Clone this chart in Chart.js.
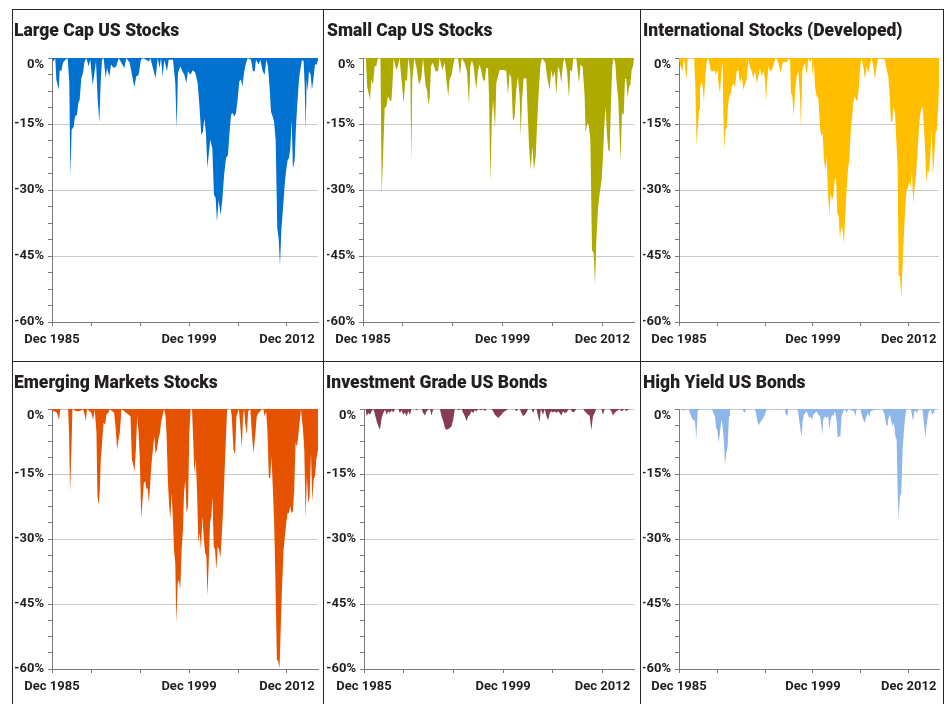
<!DOCTYPE html>
<html>
<head>
<meta charset="utf-8">
<script src="https://cdn.jsdelivr.net/npm/chart.js@4.4.1/dist/chart.umd.min.js"></script>
<style>
  html, body { margin: 0; padding: 0; background: #ffffff; width: 948px; height: 704px; overflow: hidden; }
  #stage { position: relative; width: 948px; height: 704px; }
  canvas { position: absolute; }
  .line { position: absolute; background: #262626; }
</style>
</head>
<body>
<div id="stage">
  <div class="line" style="left:12px; top:9px; width:932px; height:1px;"></div>
  <div class="line" style="left:12px; top:9px; width:1px; height:700px;"></div>
  <div class="line" style="left:943px; top:9px; width:1px; height:700px;"></div>
  <div class="line" style="left:323px; top:9px; width:1px; height:700px;"></div>
  <div class="line" style="left:640px; top:9px; width:1px; height:700px;"></div>
  <div class="line" style="left:12px; top:361px; width:932px; height:1px;"></div>
</div>
<script>
// ---- Data: x = months since Dec 1985, y = drawdown from prior peak (%) ----
const panelTitles = ['Large Cap US Stocks', 'Small Cap US Stocks', 'International Stocks (Developed)',
  'Emerging Markets Stocks', 'Investment Grade US Bonds', 'High Yield US Bonds'];
const xTickMonths = [0, 48, 108, 168, 228, 288];
const xTickLabels = ['Dec 1985', '', '', 'Dec 1999', '', 'Dec 2012'];
const yMajorTicks = [0, -15, -30, -45, -60];

const largeCap = [[0,0],[2,-0.8],[4,0],[5.3,-4.9],[8.2,-7.2],[9.4,-2.7],[11.4,-3],[13.5,-1.1],[16.3,-0.4],[19.2,0],[21.2,-5.7],[22.5,-27],[24.1,-16.3],[26.6,-15.6],[28.2,-13.3],[30.6,-12.9],[32.3,-10.2],[33.9,-9.5],[35.9,-4.6],[38,-3.4],[39.6,-1.1],[42,0],[44.9,-1.9],[47,-0.4],[48.2,-3],[49.8,-6.1],[51.5,-4.2],[53.9,-0.8],[56,-9.5],[58,-14.8],[59.6,-5.7],[61.3,-0.4],[63.3,0],[65.8,-4.6],[67.4,-2.3],[70.3,-4.2],[72.3,-1.5],[75.6,-2.3],[78.8,-1.9],[81.7,0],[88.6,-2.3],[91.1,0],[95.2,-1.1],[98,-3.8],[100.9,-6.6],[103.3,-4.2],[106.2,-3.8],[109,-0.4],[111.5,0],[118.9,-0.8],[120.5,0],[127,-4.6],[129.5,0],[131.9,-2.3],[133.6,0],[135.6,-4.2],[137.7,-0.4],[140.9,-3],[143,-0.4],[148.3,-0.4],[151.1,-5.7],[152.8,-16],[154.4,-3.4],[157.3,-1.9],[159.7,-3],[162.2,-3.8],[164.6,-5.7],[166.7,-3],[169.5,-3.8],[172.8,-2.7],[175.7,-3.4],[178.5,-5.7],[180.6,-10.6],[183,-17.5],[185,-16.7],[186.7,-13.7],[188.7,-17.1],[190.4,-25],[192.4,-21.3],[194,-18.6],[196.5,-20.5],[198.5,-31.1],[200.6,-31.9],[202.2,-37.2],[204.2,-32.3],[206.7,-35.7],[208.7,-32.3],[210.8,-26.9],[213.2,-22.8],[215.7,-22],[217.3,-17.5],[219.4,-12.9],[221.4,-12.5],[223.4,-13.3],[225.5,-12.5],[227.5,-9.5],[229.6,-5.3],[231.6,-4.9],[233.3,-6.5],[235.3,-3.4],[237.3,-1.5],[239.8,0],[243.9,-0.4],[246.3,-3],[248.4,-3],[250,-0.4],[253.3,-1.5],[255.3,-0.4],[258.2,-3],[260.6,-3.8],[262.7,-0.4],[264.7,-1.9],[266.7,-6.8],[268.4,-12.2],[270.4,-13.3],[272.1,-14.4],[274.1,-18.6],[276.1,-38.7],[277.8,-41],[279.4,-47.1],[281.1,-39.1],[283.1,-34.2],[285.1,-28.9],[286.8,-25.8],[288.8,-23.2],[290.4,-22.8],[292.1,-20.5],[293.7,-14],[295.3,-25.1],[297.4,-23.2],[299,-15.6],[300.7,-10.3],[302.7,-4.9],[304.3,-2.7],[306.4,-0.4],[308.4,-0.8],[309.6,-5.7],[310.9,-16.3],[312.1,-4.9],[313.3,-7.6],[314.9,-3],[317,-3.8],[318.6,-7.2],[320.3,-4.9],[322.3,-1.5],[324.3,-1.5],[326,-0.4]];

const smallCap = [[0,0],[3.5,0],[5,-6.5],[8.5,-9.5],[10,-4.9],[12,-6.1],[14,-1.9],[16,-1.9],[18,0],[21,0],[22.5,-31],[24.1,-22.4],[26.1,-11.4],[28.1,-11],[30.1,-8.7],[32.1,-9.5],[34.1,-9.9],[35.3,-6.5],[36.9,0],[40,-2.7],[42,-1.9],[44,0],[46.1,-4.6],[48.9,-10.3],[50.9,-4.9],[52.9,-5.3],[54.5,0],[56.9,-3],[58.1,-23.9],[59.3,-5],[61.7,0],[64.2,-2],[67.4,-6.1],[70.2,-4.6],[72.2,0],[75.4,-6.5],[77,-7.2],[78.6,-10.6],[80.2,-9],[81.8,-1.9],[84,-1],[87.4,-3],[90.2,-3],[92.2,0],[95.4,-2.7],[98.2,-1],[100.2,-4.9],[102.6,-8.7],[104.2,-4.9],[106.7,-3.8],[108.3,-1.9],[110.3,0],[114.3,0],[116.7,-3.8],[118.7,0],[122,-1],[125.1,-3],[127.5,-10.6],[129.1,-1.9],[131,-0.5],[133.1,-2],[136.3,-7.2],[138.3,-3],[140.3,-1.5],[142.3,-3],[144.3,-4.9],[146.4,-5.3],[148.4,-2.3],[150.4,-2.3],[151.6,-8.7],[153.2,-28.3],[154.8,-14.8],[156.4,-9.5],[158.8,-15.9],[160.4,-5.7],[162.4,-4.2],[164.4,-2.7],[167.6,-2.7],[170.8,-2.7],[172.4,-3],[174.4,-8.4],[176.4,-3.4],[178.4,-4.6],[180.4,-14.4],[182.4,-13.3],[184.4,-7.2],[186.4,-4.2],[188.5,-9],[189.7,-17.8],[191.3,-9.5],[193.3,-4.6],[196.5,-4.6],[199.7,-20.1],[201.7,-25.4],[203.7,-20.1],[205.7,-25.4],[207.7,-22.4],[209.3,-15.6],[211.3,-8],[213.3,-1.9],[215.3,0],[219.3,-1],[221.7,-4.6],[224.5,-7.2],[226.5,-2.7],[228.5,-4.6],[230.6,-3],[232.6,-8.4],[234.6,-1.9],[236.6,-3],[238.6,-5.7],[240.6,-1.1],[242.6,0],[245.4,-3],[247.8,-9.1],[249.4,-2.7],[251.4,-3],[253,0],[256.6,0],[259.8,-5.7],[261.8,-1.5],[264.2,-2],[266.6,-8.7],[267.8,-17.1],[269.8,-14.8],[271.5,-15.2],[273.5,-18.6],[275.5,-43.7],[277.5,-44.4],[279.1,-51.6],[280.7,-41.4],[282.7,-34.2],[284.7,-30.8],[287.1,-27.7],[288.7,-22.4],[290.3,-15.2],[291.9,-11],[293.5,-17.5],[295.1,-20.9],[296.7,-21.3],[298.3,-10.3],[299.9,-1.9],[301.5,0],[303.5,-1],[304.7,-4.9],[307.1,-9.5],[309.9,-23.5],[311.5,-12.5],[313.6,-12.9],[315.2,-4.6],[316.8,-4.9],[318.4,-9.1],[320,-6.5],[321.6,-6.1],[323.2,-2.7],[324.8,-1.9],[326,0]];

const intlDeveloped = [[0,0],[1.3,-1.5],[4.2,-3],[6.3,0],[7.5,-2],[9.6,-4.9],[10.9,0],[19,0],[20.5,-6.5],[22.1,-20.1],[23.4,-16.3],[25.1,-11.8],[26.3,-7.2],[28,-5.3],[29.7,-6.5],[31.3,-9.9],[33,-4.2],[34.7,-0.8],[36.8,0],[40.1,-3],[43,-3],[44.3,-2.7],[46,-3.8],[48.1,-2.7],[49.7,-6.1],[51.4,-8],[53.1,-3.4],[54.7,-0.8],[55.6,-12.5],[56.8,-20.9],[58.1,-16.3],[59.8,-15.9],[61.4,-11],[63.1,-8.7],[64.8,-8],[66.4,-6.5],[68.1,-5.7],[70.2,-6.8],[72.3,-3],[74.4,-2.7],[76.5,-5.7],[78.6,-4.2],[80.7,-7.2],[82.7,-6.1],[84.8,-4.9],[86.9,-0.4],[89,-1.9],[91.1,-3],[93.2,-4.6],[95.3,-3],[97.4,-5.7],[99.5,-4.2],[101.5,-2.3],[103.6,-4.2],[105.7,-3],[107.8,-4.9],[109.1,-9.9],[110.7,-4.9],[112.4,-1.9],[114.1,-3],[116.2,-2.7],[118.3,-1.9],[120.4,-0.4],[122,0],[124.5,-1.1],[127.5,-3.4],[130,-1.1],[132.9,-0.8],[135,-1.1],[137.1,0],[139.2,-0.4],[140.4,-8],[142.1,-8.7],[143.8,-13.3],[145.4,-8],[147.5,-4.2],[149.6,-3],[151.7,-8.7],[152.9,-15.9],[154.6,-3],[156.3,-1.9],[158,-1.1],[160,-3.8],[162.1,0],[164.2,-1.1],[166.3,0],[167.6,-4.2],[169.2,-0.8],[170.5,-6.5],[172.6,-8.7],[174.7,-9.1],[176.8,-15.6],[178.4,-17.8],[180.1,-17.1],[181.8,-23.2],[183.5,-25.8],[185.1,-22.4],[186.8,-30.8],[188.5,-35.7],[190.1,-30.8],[191.8,-32.3],[193.5,-31.5],[195.2,-27.7],[196.8,-27],[198.5,-35.3],[200.2,-36],[201.8,-41],[203.5,-38.4],[205.2,-39.1],[206.9,-42.1],[208.5,-35.3],[210.2,-30],[211.9,-25.4],[213.5,-23.2],[215.2,-17.1],[216.9,-13.7],[218.6,-10.3],[220.2,-8.7],[221.9,-9.5],[223.6,-9.9],[225.3,-7.2],[226.9,-2.7],[228.6,0],[231.1,-1.9],[233.2,-4.9],[235.3,-1.9],[237.4,-3.4],[239.4,-1.5],[241.5,0],[243.6,-1.9],[245.7,-4.9],[247.8,-1.9],[249.9,0],[258.2,-0.4],[260.4,-2.7],[262.5,-4.2],[264.5,-9.5],[265.8,-14.8],[267.4,-14.4],[269.1,-11],[270.8,-12.5],[272.5,-18.6],[274.1,-24.7],[275.4,-49.3],[277.1,-49.7],[278.7,-54.7],[280.4,-46.7],[282.1,-39.9],[283.7,-33.8],[285.4,-30],[287.1,-29.6],[288.8,-28.1],[290.4,-29.2],[292.1,-26.2],[293.8,-33],[295.4,-29.6],[297.1,-26.9],[298.8,-22],[300.5,-17.1],[302.1,-13.3],[303.8,-11.8],[305.5,-11],[307.1,-15.6],[308.8,-21.6],[310.1,-28.5],[311.7,-25.4],[313.4,-26.2],[315.1,-22.4],[316.8,-16.3],[318.4,-26.6],[320.1,-22.4],[321.8,-17.1],[323.4,-16.3],[325.1,-11],[326,-6.5]];

const emergingMkts = [[0,0],[1.2,-0.5],[3.3,-0.5],[6.1,-0.9],[8.6,-2.5],[10.2,0],[19.7,0],[20.9,-5.5],[22.1,-19.4],[23.8,-9.4],[25,0],[29.9,-0.5],[34,-0.5],[36,-0.3],[38,0],[40.1,-1.3],[41.4,-2.8],[43,0],[48.3,-0.9],[50.4,-2.5],[52.4,-0.2],[54.5,-5.5],[55.7,-20.2],[57.3,-22.1],[58.6,-18.6],[59.8,-11.7],[61.4,-7.8],[63.1,-3.2],[65.1,-3.6],[66.7,-1.3],[68.8,-0.9],[70.8,0],[76.2,-0.9],[77.8,-4],[79.9,-9.4],[81.5,-7.1],[83.1,-5.5],[85.2,0],[96.2,-1.7],[97.9,-11.7],[99.5,-12.8],[101.1,-14.4],[102.8,-9.4],[104.4,-1.7],[106.1,-5.5],[107.7,-11.7],[109.3,-25.2],[111,-21],[112.6,-17.1],[114.2,-16.7],[115.9,-18.6],[117.1,-18.2],[118.8,-21.7],[120.4,-17.1],[122,-12.5],[123.7,-9.4],[125.3,-6.3],[126.9,-10.2],[128.6,-9.4],[130.2,-7.1],[132.3,-5.5],[133.9,-2.8],[135.5,-1.7],[137.2,0],[139.2,-1.7],[140.5,-6.3],[142.1,-17.1],[143.7,-22.5],[145,-25.5],[146.6,-19.4],[148.2,-25.5],[149.5,-32.5],[151.1,-35.5],[152.3,-49.4],[154,-40.2],[155.6,-39.4],[157.2,-41.7],[158.9,-32.5],[160.5,-27.8],[161.8,-19.4],[163.4,-16.3],[165,-24],[166.7,-22.5],[168.3,-5.5],[169.9,0],[171.6,0],[173.2,-7.8],[174.4,-14.8],[176.1,-11.7],[177.7,-18.6],[179.4,-30.9],[181,-28.6],[182.6,-32.5],[184.3,-24.8],[185.9,-29.4],[187.6,-33.2],[189.2,-34],[190.4,-43.2],[192.1,-35.5],[193.7,-26.3],[195.3,-24.8],[196.6,-20.2],[198.2,-31.7],[199.8,-32.5],[201.5,-37.1],[203.1,-31.7],[204.8,-32.5],[206.4,-34.4],[208,-29.4],[209.7,-23.3],[211.3,-15.5],[212.9,-7.8],[214.6,0],[219,0],[220.3,-1.7],[222.4,-9.4],[224.4,-10.5],[226,-1.7],[229,0],[230.5,-3.2],[232.6,-9],[234.2,-1.7],[235.5,0],[236.7,-3.2],[238.7,-5.9],[240.4,-0.5],[243,0],[244.9,-5.5],[246.9,-10.2],[249,-6.3],[251,-1.7],[253.1,-0.9],[255.1,-0.5],[257.2,0],[259,0],[260.4,-1.7],[262.5,-0.5],[264.1,-5.5],[265.8,-15.9],[267.4,-15.9],[269,-10.9],[270.7,-18.6],[272.3,-26.3],[273.9,-40.2],[275.6,-57.8],[277.2,-58.2],[278.9,-59.8],[280.5,-49.4],[282.1,-40.2],[283.8,-32.5],[285.4,-29.4],[287.1,-26.3],[288.7,-24],[290.3,-24],[292,-22.5],[293.6,-24],[295.2,-23.6],[296.9,-18.6],[298.5,-7.8],[300.2,-8.6],[301.8,-6.3],[303.4,-3.2],[305.1,0],[306.3,-2.5],[307.5,-4.4],[309.2,-9.4],[310.8,-25.2],[312.4,-15.5],[314.1,-21.7],[315.7,-20.2],[317.4,-10.2],[319,-21.3],[320.6,-16.3],[322.3,-15.5],[323.9,-11.7],[326,-9.4]];

const invGradeBonds = [[0,0],[2,0],[3.2,-1.7],[5.2,-0.9],[7.2,-1.3],[9.2,-0.5],[11.3,0],[13.3,-1.3],[15.3,-2.8],[17.3,-4],[19.3,-4.8],[21.3,-2.1],[23.3,-0.9],[25.3,-0.2],[27.3,-1.3],[29.3,-0.5],[31.4,-0.9],[33.4,-0.3],[35.4,-0.8],[37.4,0],[41.4,0],[43.4,-0.9],[45.4,-0.3],[47.4,-1.3],[49.4,-0.8],[51.4,-1.7],[53.5,-0.5],[55.5,-1.3],[57.5,0],[61.5,0],[63.5,-0.3],[65.5,0],[69.5,0],[71.5,-0.9],[73.6,-1.5],[75.6,-0.5],[77.6,-0.2],[79.6,0],[81.6,-1.5],[83.6,0],[91.6,0],[93.6,-1.7],[95.7,-2.8],[97.7,-4.4],[99.7,-4.8],[101.7,-4.6],[103.7,-4.4],[105.7,-4],[107.7,-2.5],[109.7,0],[111.7,0],[113.7,-0.3],[117.8,0],[119.8,-0.9],[121.8,-1.7],[123.8,-2.8],[125.8,-1.7],[127.8,-1.3],[129.8,-0.5],[131.8,-0.9],[133.8,-0.3],[135.9,-0.5],[137.9,0],[141.9,-0.3],[143.9,0],[145.9,-0.5],[147.9,0],[153.9,0],[155.9,-0.5],[158,-1.3],[160,-1.7],[162,-2.1],[164,-1.7],[166,-1.3],[168,-0.8],[170,-0.5],[172,-0.3],[174,0],[182.1,0],[184.1,-0.5],[186.1,0],[188.1,0],[190.1,-0.9],[192.1,-1.7],[194.1,-1.3],[196.1,-0.8],[198.2,0],[202.2,0],[204.2,-0.9],[206.2,0],[208.2,0],[210.2,-1.7],[212.2,-3.1],[213.4,0],[216.2,-1.3],[218.2,0],[220.3,-1.7],[222.3,-2.6],[224.3,-0.9],[226.3,-0.5],[228.3,-0.8],[230.3,-0.5],[232.3,-0.9],[234.3,-0.5],[236.3,-0.9],[238.3,-1.5],[240.4,-0.5],[242.4,-0.9],[244.4,-0.8],[246.4,-0.3],[248.4,0],[252.4,-0.8],[254.4,-0.5],[256.4,0],[264.5,0],[266.5,-0.5],[268.5,-0.9],[270.5,-1.3],[272.5,-1.5],[274.5,-4.9],[276.5,-1.7],[278.5,-0.9],[280.5,0],[286.6,0],[288.6,-1.3],[290.6,0],[296.6,0],[298.6,-0.5],[300.6,-1.5],[302.7,-0.9],[304.7,-0.5],[306.7,-0.3],[308.7,0],[310.7,-0.5],[312.7,-0.3],[314.7,0],[316.7,-0.5],[318.7,-0.2],[320.7,0],[326,0]];

const highYieldBonds = [[0,0],[4,0],[5.4,-0.5],[7.5,0],[12,0],[13.8,-0.9],[15.9,-2.1],[18,-2.5],[20.1,-2.8],[21.7,-7.1],[23.4,-0.5],[26.3,0],[41.5,0],[43,-0.9],[45.1,-1.7],[46.4,-4.4],[48.1,-4.8],[49.7,-7.8],[51.4,-5.5],[53.1,-2.5],[54.7,-4],[56.4,-7.8],[57.7,-12.8],[59.3,-10.2],[61,-8.6],[62.7,-1.7],[63.9,0],[79.5,0],[80.7,-0.5],[82.7,-0.9],[84,0],[95,0],[96.5,-0.9],[98.2,-2.8],[99.9,-3.8],[101.5,-3.2],[103.6,-2.6],[105.7,-2.1],[107.8,-1.3],[109.9,0],[121,0],[122.4,-0.3],[123.5,0],[132.5,0],[134.1,-1.3],[135.8,-1.7],[137.1,0],[148,0],[149.6,-0.9],[150.9,-2.8],[152.5,-5.1],[153.8,-6.5],[155,-2.8],[156.7,-1.3],[158.4,-0.9],[160,-0.5],[161.7,-1.3],[163.4,-2.1],[165.1,-1.7],[166.7,-2.5],[168.4,-1.3],[170.5,-0.9],[172.6,-0.5],[174.7,-1.3],[176.8,-1.7],[178.4,-3.6],[179.7,-5.9],[180.9,-2.5],[183,-1.7],[185.1,-2.1],[187.2,-1.7],[188.5,-4.7],[190.1,-2.5],[191.8,-1.3],[193.5,-1.7],[195.6,-0.5],[197.7,-2.8],[198.9,-6.7],[200.6,-6.3],[202.3,-6.3],[203.9,-1.7],[206,-0.5],[208,0],[210.2,-0.9],[212.3,0],[219.4,-0.5],[221.1,-1.7],[222.7,0],[227.5,0],[229,-1.3],[231.1,-2.5],[232.8,-3.2],[234.4,-2.1],[236.5,-0.9],[238.6,-1.7],[240.3,-0.5],[243.6,-0.3],[247,0],[255,0],[256.2,-0.5],[258.2,-1.7],[259.5,-3.6],[261.2,-4],[262.8,-2.1],[264.5,-1.3],[266.2,-2.8],[267.8,-4],[269.5,-3.2],[271.2,-6.3],[272.9,-7.1],[274.1,-18.6],[275.4,-25.5],[277.1,-20.2],[278.7,-19.4],[280.4,-9.4],[282.1,-4.8],[283.7,-1.7],[285,0],[290.5,0],[291.7,-0.9],[293.4,-2.8],[295,-0.5],[297.1,-0.5],[298.8,-0.9],[300,0],[304.5,0],[305.5,-0.5],[307.1,-3.2],[308.8,-6.7],[310.5,-3.6],[311.7,-2.1],[313.4,-0.5],[315.9,0],[317.6,-1.3],[319.3,-0.9],[320.9,0],[326,0]];

const seriesData = [largeCap, smallCap, intlDeveloped, emergingMkts, invGradeBonds, highYieldBonds];
const seriesColors = ['#0071ce', '#aeaa00', '#ffbf00', '#e55300', '#863c57', '#8fb6e8'];

// ---- Layout (page pixels) ----
const layout = [
  { cl: 13,  ct: 10,  cw: 310, ch: 351, pl: 52,  pr: 318, pt: 58,  pb: 322, tl: 14,  tc: 31.5 },
  { cl: 324, ct: 10,  cw: 316, ch: 351, pl: 363, pr: 634, pt: 58,  pb: 322, tl: 327, tc: 31.5 },
  { cl: 641, ct: 10,  cw: 302, ch: 351, pl: 679, pr: 939, pt: 58,  pb: 322, tl: 643, tc: 31.5 },
  { cl: 13,  ct: 362, cw: 310, ch: 346, pl: 52,  pr: 318, pt: 409, pb: 669, tl: 14,  tc: 383.5 },
  { cl: 324, ct: 362, cw: 316, ch: 346, pl: 364, pr: 634, pt: 409, pb: 669, tl: 326, tc: 383.5 },
  { cl: 641, ct: 362, cw: 302, ch: 346, pl: 679, pr: 939, pt: 409, pb: 669, tl: 643, tc: 383.5 }
];

const FONT = "Roboto, 'Liberation Sans', Arial, sans-serif";
const TEXT = '#231f20';
const AXIS = '#7a7a7a';
const GRID = '#c9c9c9';
const TITLE_SIZE = 17.5;
const TITLE_LH = TITLE_SIZE * 1.2;
const TICK_SIZE = 13;

const stage = document.getElementById('stage');

layout.forEach((L, i) => {
  const cv = document.createElement('canvas');
  cv.width = L.cw; cv.height = L.ch;
  cv.style.left = L.cl + 'px'; cv.style.top = L.ct + 'px';
  cv.style.width = L.cw + 'px'; cv.style.height = L.ch + 'px';
  stage.appendChild(cv);

  const padLeft = L.tl - L.cl;
  const yWidth = L.pl - L.cl - padLeft;
  const padRight = L.cl + L.cw - L.pr;
  const titleTop = L.tc - L.ct - TITLE_LH / 2;
  const titleBottom = (L.pt - L.ct) - titleTop - TITLE_LH;
  const xHeight = L.ct + L.ch - L.pb;

  new Chart(cv, {
    type: 'line',
    data: {
      datasets: [{
        data: seriesData[i].map(p => ({ x: p[0], y: p[1] })),
        fill: 'origin',
        backgroundColor: seriesColors[i],
        borderWidth: 0,
        borderColor: 'rgba(0,0,0,0)',
        pointRadius: 0,
        tension: 0
      }]
    },
    options: {
      responsive: false,
      animation: false,
      devicePixelRatio: 1,
      layout: { padding: { left: padLeft, right: padRight, top: 0, bottom: 0 } },
      plugins: {
        legend: { display: false },
        tooltip: { enabled: false },
        title: {
          display: true,
          text: panelTitles[i],
          align: 'start',
          color: TEXT,
          font: { family: FONT, size: TITLE_SIZE, weight: '900', lineHeight: 1.2 },
          padding: { top: titleTop, bottom: titleBottom }
        }
      },
      scales: {
        x: {
          type: 'linear',
          min: 0,
          max: 326,
          afterBuildTicks: (s) => { s.ticks = xTickMonths.map(v => ({ value: v })); },
          afterFit: (s) => { s.height = xHeight; },
          ticks: {
            autoSkip: false,
            maxRotation: 0,
            padding: 6,
            color: TEXT,
            font: { family: FONT, size: TICK_SIZE, weight: 'bold', lineHeight: 1.2 },
            callback: (v, idx) => xTickLabels[idx]
          },
          grid: { drawOnChartArea: false, tickLength: 4, tickColor: AXIS },
          border: { color: AXIS, width: 1 }
        },
        y: {
          min: -60,
          max: 0,
          afterBuildTicks: (s) => {
            const t = [];
            for (let k = 0; k <= 16; k++) t.push({ value: -60 + k * 3.75 });
            s.ticks = t;
          },
          afterFit: (s) => { s.width = yWidth; },
          ticks: {
            autoSkip: false,
            padding: 4,
            color: TEXT,
            font: { family: FONT, size: TICK_SIZE, weight: 'bold', lineHeight: 1.1 },
            callback: (v) => {
              const m = yMajorTicks.find(t => Math.abs(t - v) < 1e-6);
              if (m === undefined) return '';
              // the top label sits just below the 0% line, as in the reference
              return m === 0 ? ['', '0%'] : m + '%';
            }
          },
          grid: {
            tickLength: 4,
            tickColor: AXIS,
            color: (ctx) => {
              const v = ctx.tick ? ctx.tick.value : 1;
              return yMajorTicks.some(t => Math.abs(t - v) < 1e-6) ? GRID : 'rgba(0,0,0,0)';
            }
          },
          border: { color: AXIS, width: 1 }
        }
      }
    }
  });
});
</script>
</body>
</html>
